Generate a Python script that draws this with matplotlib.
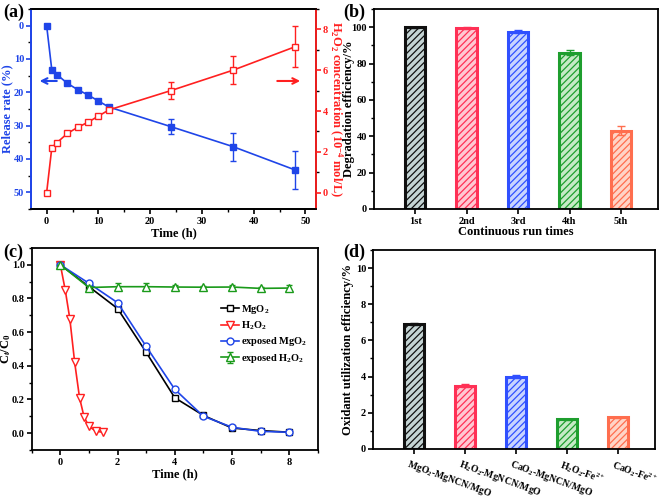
# -*- coding: utf-8 -*-
"""
MgO2 release / degradation panels (a)-(d)
"""
import numpy as np
import matplotlib
matplotlib.use('Agg')
import matplotlib.pyplot as plt
from matplotlib.ticker import AutoMinorLocator
from matplotlib.transforms import ScaledTranslation

#====================================================
#                       Data
#====================================================
# (a) release rate and H2O2 concentration
t_a        = [0, 1, 2, 4, 6, 8, 10, 12, 24, 36, 48]
release    = [0, 13.3, 14.7, 17.3, 19.2, 20.8, 22.6, 24.4, 30.3, 36.3, 43.3]
release_er = [0, 0, 0, 0, 0, 0, 0, 0, 2.2, 4.2, 5.8]
h2o2_conc  = [0, 2.2, 2.45, 2.9, 3.2, 3.45, 3.75, 4.05, 5.0, 6.0, 7.15]
h2o2_er    = [0, 0.05, 0.05, 0.05, 0.05, 0.05, 0.05, 0.05, 0.4, 0.7, 1.0]

# (b) cycling runs
runs     = ['1st', '2nd', '3rd', '4th', '5th']
deg_eff  = [100, 99.5, 97.5, 86, 43]
deg_err  = [0.2, 0.5, 0.8, 1.2, 2.5]

# (c) kinetics
t_c       = [0, 1, 2, 3, 4, 5, 6, 7, 8]
mgo2      = [1.0, 0.87, 0.74, 0.48, 0.21, 0.105, 0.03, 0.015, 0.005]
mgo2_exp  = [1.0, 0.89, 0.775, 0.515, 0.26, 0.10, 0.035, 0.01, 0.005]
h2o2_exp  = [1.0, 0.865, 0.87, 0.87, 0.868, 0.867, 0.868, 0.86, 0.862]
h2o2_exp_er = [0, 0.01, 0.02, 0.02, 0.01, 0.01, 0.01, 0.01, 0.02]
t_h2o2    = [0, 0.17, 0.33, 0.5, 0.67, 0.83, 1.0, 1.25, 1.5]
h2o2      = [1.0, 0.85, 0.68, 0.42, 0.21, 0.095, 0.04, 0.01, 0.005]

# (d) oxidant utilization
systems  = ['MgO$_2$-MgNCN/MgO', 'H$_2$O$_2$-MgNCN/MgO', 'CaO$_2$-MgNCN/MgO',
            'H$_2$O$_2$-Fe$^{2+}$', 'CaO$_2$-Fe$^{2+}$']
util     = [6.9, 3.5, 4.0, 1.65, 1.75]
util_err = [0.05, 0.08, 0.1, 0.03, 0.03]

bar_edge = ['#101010', '#FF3055', '#3050FF', '#1E9E2E', '#FF6E4E']
bar_face = ['#C4D4D4', '#FFC8D2', '#C8D4FF', '#C6EAC6', '#FFD4C6']

c_blue = '#1F45E8'
c_red  = '#FF2020'

#====================================================
#                       Style
#====================================================
plt.rcParams['font.family'] = 'Liberation Serif'
plt.rcParams['font.weight'] = 'bold'
plt.rcParams['mathtext.fontset'] = 'custom'
plt.rcParams['mathtext.rm'] = 'Liberation Serif:bold'
plt.rcParams['mathtext.it'] = 'Liberation Serif:italic:bold'
plt.rcParams['mathtext.bf'] = 'Liberation Serif:bold'
plt.rcParams['axes.linewidth'] = 1.3
plt.rcParams['xtick.major.width'] = 1.2
plt.rcParams['ytick.major.width'] = 1.2
plt.rcParams['xtick.minor.width'] = 1.0
plt.rcParams['ytick.minor.width'] = 1.0
plt.rcParams['xtick.major.size'] = 3.5
plt.rcParams['ytick.major.size'] = 3.5
plt.rcParams['xtick.minor.size'] = 2
plt.rcParams['ytick.minor.size'] = 2
plt.rcParams['xtick.major.pad'] = 2
plt.rcParams['ytick.major.pad'] = 1.5
plt.rcParams['xtick.labelsize'] = 7.5
plt.rcParams['ytick.labelsize'] = 7.5
plt.rcParams['hatch.linewidth'] = 0.9

fs_lab = 9

fig = plt.figure(figsize=(6.62, 5.01), dpi=100)
ax_a = fig.add_axes([0.047, 0.583, 0.430, 0.399])
ax_b = fig.add_axes([0.565, 0.583, 0.429, 0.399])
ax_c = fig.add_axes([0.048, 0.102, 0.432, 0.403])
ax_d = fig.add_axes([0.5635, 0.104, 0.426, 0.397])

#====================================================
#                      Panel (a)
#====================================================
ax_a.errorbar(t_a, release, yerr=release_er, color=c_blue, marker='s', ms=4.5,
              lw=1.2, capsize=2.5, elinewidth=1.0)
ax_a.set_ylim(55, -5)
ax_a.set_xlim(-3, 52)
ax_a.set_yticks([0, 10, 20, 30, 40, 50])
ax_a.set_xticks([0, 10, 20, 30, 40, 50])
ax_a.set_xlabel('Time (h)', fontsize=fs_lab, fontweight='bold', labelpad=1)
ax_a.set_ylabel('Release rate (%)', fontsize=fs_lab, fontweight='bold', color=c_blue)
ax_a.yaxis.set_label_coords(-0.064, 0.5)
ax_a.tick_params(axis='y', colors=c_blue)
ax_a.spines['left'].set_color(c_blue)
ax_a.xaxis.set_minor_locator(AutoMinorLocator(2))
ax_a.yaxis.set_minor_locator(AutoMinorLocator(2))

ax_a2 = ax_a.twinx()
ax_a2.errorbar(t_a, h2o2_conc, yerr=h2o2_er, color=c_red, marker='s', ms=4.5,
               mfc='white', lw=1.2, capsize=2.5, elinewidth=1.0)
ax_a2.set_ylim(-0.8, 9.0)
ax_a2.set_yticks([0, 2, 4, 6, 8])
ax_a2.tick_params(axis='y', colors=c_red)
ax_a2.spines['right'].set_color(c_red)
ax_a2.spines['left'].set_color(c_blue)
ax_a2.yaxis.set_minor_locator(AutoMinorLocator(2))
ax_a2.set_ylabel('H$_2$O$_2$ concentration (10$^{-4}$ mol/L)', fontsize=fs_lab,
                 fontweight='bold', color=c_red, rotation=270, va='bottom')
ax_a2.yaxis.set_label_coords(1.04, 0.5)

ax_a.annotate('', xy=(0.02, 0.64), xytext=(0.1, 0.64), xycoords='axes fraction',
              arrowprops=dict(arrowstyle='->', color=c_blue, lw=1.5))
ax_a.annotate('', xy=(0.955, 0.64), xytext=(0.855, 0.64), xycoords='axes fraction',
              arrowprops=dict(arrowstyle='->', color=c_red, lw=1.5))

#====================================================
#                      Panel (b)
#====================================================
x_b = np.arange(1, 6)
for i in range(5):
    ax_b.bar(x_b[i], deg_eff[i], width=0.4, color=bar_face[i], edgecolor=bar_edge[i],
             hatch='/////', lw=2.2)
    ax_b.errorbar(x_b[i], deg_eff[i], yerr=deg_err[i], color=bar_edge[i],
                  capsize=3, elinewidth=1.0, fmt='none')
ax_b.set_xlim(0.2, 5.72)
ax_b.set_ylim(0, 110)
ax_b.set_xticks(x_b)
ax_b.set_xticklabels(runs)
ax_b.set_yticks([0, 20, 40, 60, 80, 100])
ax_b.yaxis.set_minor_locator(AutoMinorLocator(2))
ax_b.set_xlabel('Continuous run times', fontsize=fs_lab, fontweight='bold', labelpad=0)
ax_b.set_ylabel('Degradation efficiency/%', fontsize=fs_lab, fontweight='bold')
ax_b.yaxis.set_label_coords(-0.066, 0.5)

#====================================================
#                      Panel (c)
#====================================================
ax_c.plot(t_c, mgo2, color='black', marker='s', ms=4.5, mfc='white', lw=1.2, label='MgO$_2$')
ax_c.plot(t_h2o2, h2o2, color=c_red, marker='v', ms=5.5, mfc='white', lw=1.2, label='H$_2$O$_2$')
ax_c.plot(t_c, mgo2_exp, color=c_blue, marker='o', ms=5, mfc='white', lw=1.2,
          label='exposed MgO$_2$')
ax_c.errorbar(t_c, h2o2_exp, yerr=h2o2_exp_er, color='#1A9A1A', marker='^', ms=5.5,
              mfc='white', lw=1.2, capsize=2, elinewidth=1.0, label='exposed H$_2$O$_2$')
ax_c.set_xlim(-1, 9)
ax_c.set_ylim(-0.1, 1.1)
ax_c.set_xticks([0, 2, 4, 6, 8])
ax_c.set_yticks([0.0, 0.2, 0.4, 0.6, 0.8, 1.0])
ax_c.xaxis.set_minor_locator(AutoMinorLocator(2))
ax_c.yaxis.set_minor_locator(AutoMinorLocator(2))
ax_c.set_xlabel('Time (h)', fontsize=fs_lab, fontweight='bold', labelpad=1)
ax_c.set_ylabel('C$_t$/C$_0$', fontsize=fs_lab, fontweight='bold')
ax_c.yaxis.set_label_coords(-0.064, 0.5)
ax_c.legend(loc='center right', bbox_to_anchor=(0.99, 0.575), frameon=False, fontsize=7.5,
            handlelength=1.8, labelspacing=0.35, handletextpad=0.2, borderpad=0.2)

#====================================================
#                      Panel (d)
#====================================================
for i in range(5):
    ax_d.bar(x_b[i], util[i], width=0.4, color=bar_face[i], edgecolor=bar_edge[i],
             hatch='/////', lw=2.2)
    ax_d.errorbar(x_b[i], util[i], yerr=util_err[i], color=bar_edge[i],
                  capsize=3, elinewidth=1.0, fmt='none')
ax_d.set_xlim(0.2, 5.72)
ax_d.set_ylim(0, 11)
ax_d.set_xticks(x_b)
ax_d.set_xticklabels(systems, rotation=-20, ha='left', rotation_mode='anchor', fontsize=7)
ax_d.tick_params(axis='x', pad=3)
shift = ScaledTranslation(-0.04, 0, fig.dpi_scale_trans)
for lbl in ax_d.get_xticklabels():
    lbl.set_transform(lbl.get_transform() + shift)
ax_d.set_yticks([0, 2, 4, 6, 8, 10])
ax_d.yaxis.set_minor_locator(AutoMinorLocator(2))
ax_d.set_ylabel('Oxidant utilization efficiency/%', fontsize=fs_lab, fontweight='bold')
ax_d.yaxis.set_label_coords(-0.068, 0.5)

#====================================================
#                   Panel letters
#====================================================
fig.text(0.005, 0.975, '(a)', fontsize=13, fontweight='bold', va='center')
fig.text(0.518, 0.975, '(b)', fontsize=13, fontweight='bold', va='center')
fig.text(0.005, 0.497, '(c)', fontsize=13, fontweight='bold', va='center')
fig.text(0.518, 0.497, '(d)', fontsize=13, fontweight='bold', va='center')

plt.savefig('out.png', dpi=100)
